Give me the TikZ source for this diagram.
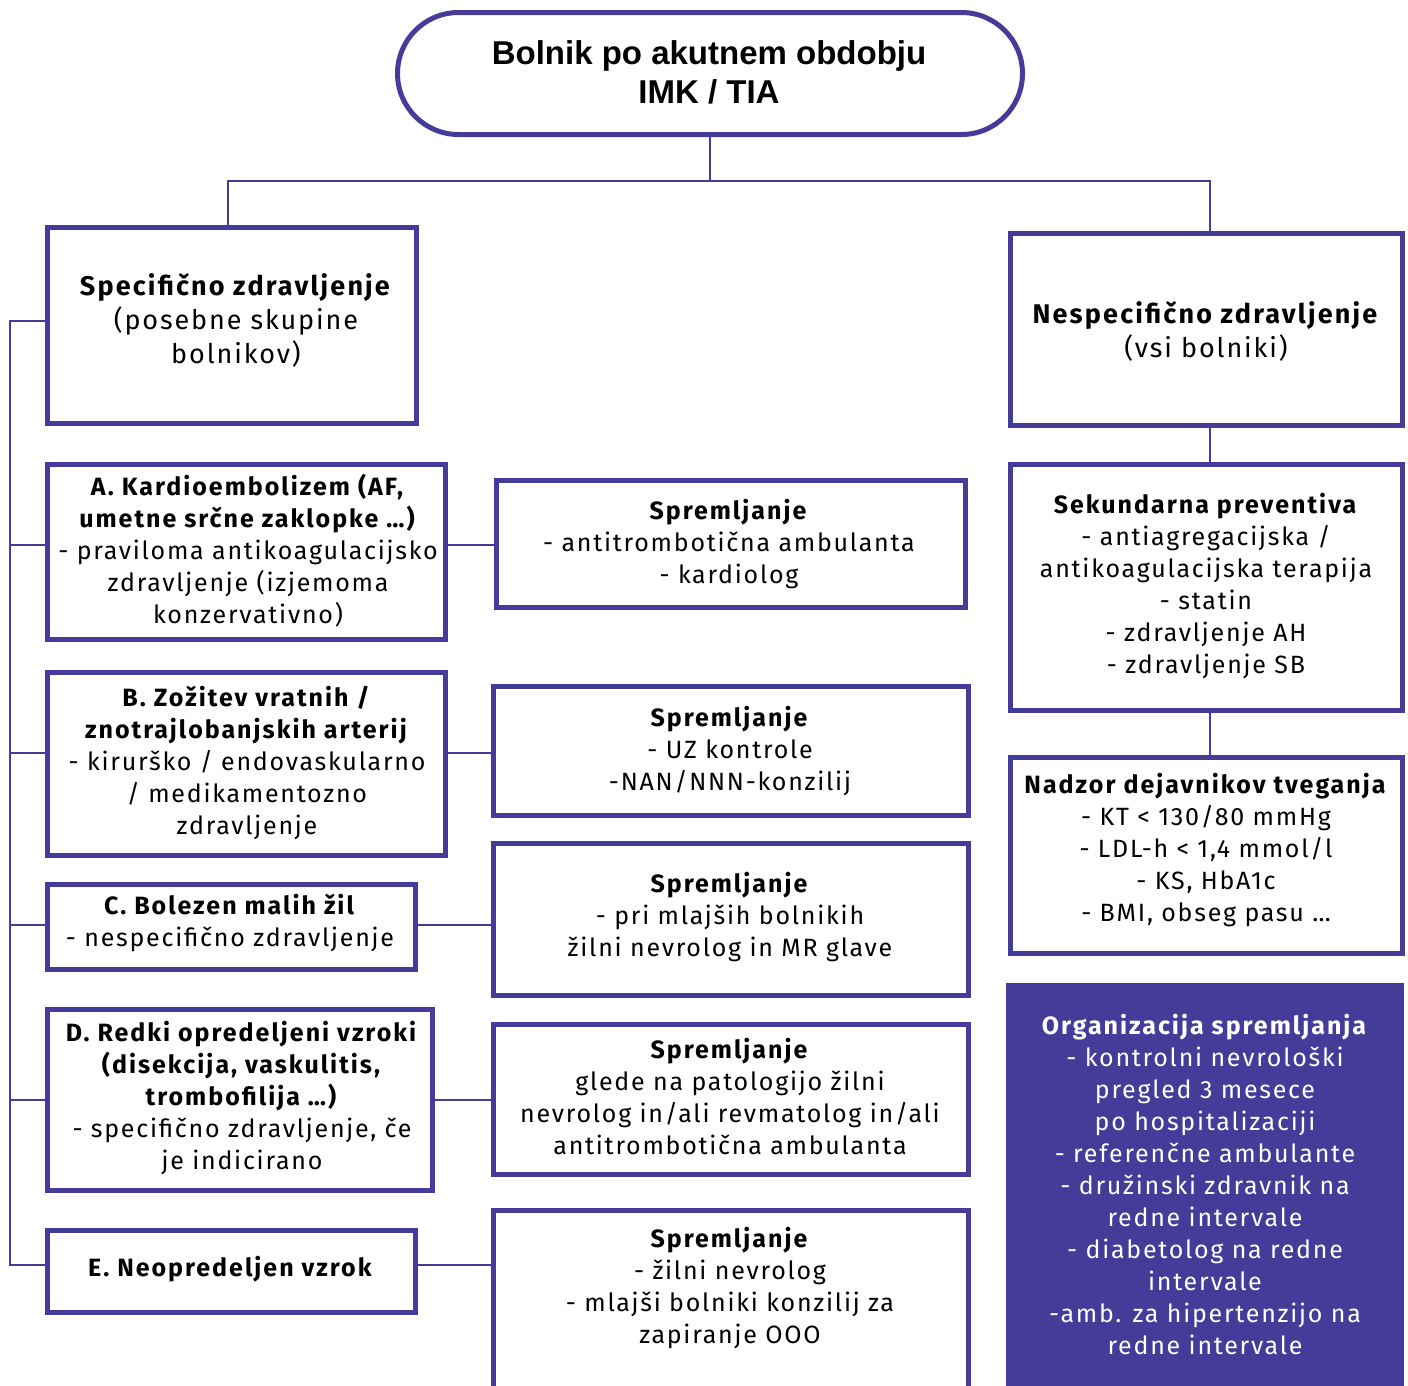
\documentclass[tikz,border=0pt]{standalone}
\usepackage{fontspec}
\setmainfont{Fira Sans}[LetterSpace=7, BoldFeatures={LetterSpace=8}]
\newfontfamily\headfont{Liberation Sans}
\usetikzlibrary{shapes.misc}
\definecolor{navy}{RGB}{68,60,152}

\begin{document}
\begin{tikzpicture}[x=1pt,y=-1pt,
  frame/.style={draw=navy, line width=5pt, inner sep=0pt, fill=white},
  link/.style={draw=navy, line width=2.5pt},
  txt/.style={align=center, inner sep=0pt, font=\fontsize{25}{32}\selectfont},
  bigtxt/.style={align=center, inner sep=0pt, font=\fontsize{27}{34}\selectfont},
]
\clip (0,0) rectangle (1408,1385);
\fill[white] (0,0) rectangle (1408,1385);

% helper coordinates for the connector routes
\coordinate (trunk) at (10,321);
\coordinate (busL) at (228,181);
\coordinate (busR) at (1210,181);
\coordinate (yA) at (0,545);
\coordinate (yB) at (0,753);
\coordinate (yC) at (0,925);
\coordinate (yD) at (0,1100);
\coordinate (yE) at (0,1265);

% boxes
\node[frame, rounded rectangle, minimum width=625, minimum height=122] (top) at (710,73.5) {};
\node[frame, minimum width=369, minimum height=196] (spec) at (232,325.5) {};
\node[frame, minimum width=392, minimum height=192] (nesp) at (1206.5,329.5) {};
\node[frame, minimum width=398, minimum height=175] (a) at (246.5,552) {};
\node[frame, minimum width=398, minimum height=183] (b) at (246.5,764) {};
\node[frame, minimum width=368, minimum height=85] (c) at (231.5,927) {};
\node[frame, minimum width=385, minimum height=181] (d) at (240,1100) {};
\node[frame, minimum width=368, minimum height=82] (e) at (231.5,1271.5) {};
\node[frame, minimum width=469, minimum height=127] (s1) at (731,544) {};
\node[frame, minimum width=475, minimum height=129] (s2) at (731,751) {};
\node[frame, minimum width=475, minimum height=152] (s3) at (731,919.5) {};
\node[frame, minimum width=475, minimum height=150] (s4) at (731,1099.5) {};
\node[frame, minimum width=475, minimum height=227] (s5) at (731,1324) {};
\node[frame, minimum width=392, minimum height=246] (sek) at (1206.5,587.5) {};
\node[frame, minimum width=392, minimum height=196] (nad) at (1206.5,855.5) {};
\node[fill=navy, inner sep=0pt, minimum width=398, minimum height=457] (org) at (1205,1211.5) {};

% connectors
\draw[link] (top.south) -- (top.south |- busL);
\draw[link] (spec.north -| busL) -- (busL) -- (busR) -- (nesp.north -| busR);
\draw[link] (nesp.south -| busR) -- (sek.north -| busR);
\draw[link] (sek.south -| busR) -- (nad.north -| busR);
\draw[link] (spec.west |- trunk) -- (trunk) -- (trunk |- yE) -- (e.west |- yE);
\draw[link] (trunk |- yA) -- (a.west |- yA);
\draw[link] (trunk |- yB) -- (b.west |- yB);
\draw[link] (trunk |- yC) -- (c.west |- yC);
\draw[link] (trunk |- yD) -- (d.west |- yD);
\draw[link] (a.east |- yA) -- (s1.west |- yA);
\draw[link] (b.east |- yB) -- (s2.west |- yB);
\draw[link] (c.east |- yC) -- (s3.west |- yC);
\draw[link] (d.east |- yD) -- (s4.west |- yD);
\draw[link] (e.east |- yE) -- (s5.west |- yE);

% texts
\node[align=center, inner sep=0pt, font=\headfont\bfseries\fontsize{33}{39}\selectfont] (toptxt) at (709,72.5)
  {Bolnik po akutnem obdobju\\IMK / TIA};
\node[bigtxt] (spectxt) at (236,320) {\textbf{Specifično zdravljenje}\\(posebne skupine\\bolnikov)};
\node[bigtxt] (nesptxt) at (1206,331.5) {\textbf{Nespecifično zdravljenje}\\(vsi bolniki)};
\node[txt] (atxt) at (248,550.5) {\textbf{A. Kardioembolizem (AF,}\\\textbf{umetne srčne zaklopke …)}\\- praviloma antikoagulacijsko\\zdravljenje (izjemoma\\konzervativno)};
\node[txt] (btxt) at (247,763) {\textbf{B. Zožitev vratnih /}\\\textbf{znotrajlobanjskih arterij}\\- kirurško / endovaskularno\\/ medikamentozno\\zdravljenje};
\node[txt] (ctxt) at (230,923) {\textbf{C. Bolezen malih žil}\\- nespecifično zdravljenje};
\node[txt] (dtxt) at (242,1098) {\textbf{D. Redki opredeljeni vzroki}\\\textbf{(disekcija, vaskulitis,}\\\textbf{trombofilija …)}\\- specifično zdravljenje, če\\je indicirano};
\node[txt] (etxt) at (231,1269) {\textbf{E. Neopredeljen vzrok}};
\node[txt] (s1txt) at (729,544) {\textbf{Spremljanje}\\- antitrombotična ambulanta\\- kardiolog};
\node[txt] (s2txt) at (730,751) {\textbf{Spremljanje}\\- UZ kontrole\\-NAN/NNN-konzilij};
\node[txt] (s3txt) at (730,917) {\textbf{Spremljanje}\\- pri mlajših bolnikih\\žilni nevrolog in MR glave};
\node[txt] (s4txt) at (730,1096) {\textbf{Spremljanje}\\glede na patologijo žilni\\nevrolog in/ali revmatolog in/ali\\antitrombotična ambulanta};
\node[txt] (s5txt) at (730,1288) {\textbf{Spremljanje}\\- žilni nevrolog\\- mlajši bolniki konzilij za\\zapiranje OOO};
\node[txt] (sektxt) at (1206,586) {\textbf{Sekundarna preventiva}\\- antiagregacijska /\\antikoagulacijska terapija\\- statin\\- zdravljenje AH\\- zdravljenje SB};
\node[txt] (nadtxt) at (1206,850) {\textbf{Nadzor dejavnikov tveganja}\\- KT < 130/80 mmHg\\- LDL-h < 1,4 mmol/l\\- KS, HbA1c\\- BMI, obseg pasu …};
\node[txt, text=white] (orgtxt) at (1205,1184) {\textbf{Organizacija spremljanja}\\- kontrolni nevrološki\\pregled 3 mesece\\po hospitalizaciji\\- referenčne ambulante\\- družinski zdravnik na\\redne intervale\\- diabetolog na redne\\intervale\\-amb. za hipertenzijo na\\redne intervale};
\end{tikzpicture}
\end{document}
